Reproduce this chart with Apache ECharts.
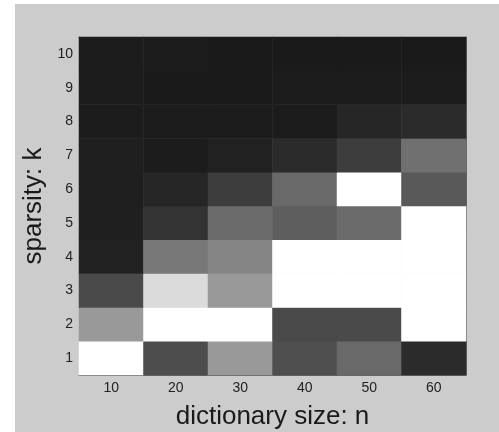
<!DOCTYPE html>
<html>
<head>
<meta charset="utf-8">
<style>html,body{margin:0;padding:0;background:#fff;}#c{width:499px;height:432px;}</style>
<script src="https://cdn.jsdelivr.net/npm/echarts@6/dist/echarts.min.js"></script>
</head>
<body>
<div id="c"></div>
<script>
// categories
var dictSizes = ['10', '20', '30', '40', '50', '60'];
var sparsity = ['1', '2', '3', '4', '5', '6', '7', '8', '9', '10'];
// brightness (0 = black, 1 = white) per sparsity row, columns n = 10..60
var row1  = [1.00, 0.30, 0.60, 0.31, 0.41, 0.17];
var row2  = [0.60, 1.00, 1.00, 0.29, 0.29, 1.00];
var row3  = [0.29, 0.86, 0.60, 1.00, 1.00, 1.00];
var row4  = [0.13, 0.47, 0.52, 1.00, 1.00, 1.00];
var row5  = [0.12, 0.20, 0.42, 0.37, 0.42, 1.00];
var row6  = [0.12, 0.15, 0.24, 0.41, 1.00, 0.35];
var row7  = [0.12, 0.11, 0.13, 0.17, 0.24, 0.44];
var row8  = [0.11, 0.11, 0.11, 0.11, 0.15, 0.17];
var row9  = [0.11, 0.10, 0.10, 0.11, 0.11, 0.11];
var row10 = [0.11, 0.11, 0.10, 0.10, 0.10, 0.10];
var rows = [row1, row2, row3, row4, row5, row6, row7, row8, row9, row10];

var data = [];
rows.forEach(function (r, yi) {
  r.forEach(function (v, xi) { data.push([xi, yi, v]); });
});

var chart = echarts.init(document.getElementById('c'), null, {renderer: 'canvas'});
var font = 'Liberation Sans, Arial, Helvetica, sans-serif';
var lineStyle = {color: '#666', width: 1};
var tickStyle = {show: true, inside: true, length: 3, alignWithLabel: true, lineStyle: {color: '#333'}};
chart.setOption({
  backgroundColor: '#ffffff',
  animation: false,
  graphic: [{
    type: 'rect', z: -10, silent: true,
    shape: {x: 15, y: 4, width: 499 - 15, height: 432 - 4},
    style: {fill: '#cccccc'}
  }],
  grid: {left: 79, right: 33, top: 37, bottom: 57, containLabel: false, outerBoundsMode: 'none'},
  xAxis: [{
    type: 'category', data: dictSizes, position: 'bottom',
    name: 'dictionary size: n', nameLocation: 'middle', nameGap: 29,
    nameTextStyle: {fontSize: 26, color: '#1a1a1a', fontFamily: font},
    axisLine: {show: true, lineStyle: lineStyle},
    axisTick: tickStyle,
    axisLabel: {fontSize: 14, color: '#222', fontFamily: font, margin: 6},
    splitLine: {show: false}
  }, {
    type: 'category', data: dictSizes, position: 'top',
    axisLine: {show: true, lineStyle: lineStyle},
    axisTick: tickStyle,
    axisLabel: {show: false},
    splitLine: {show: false}
  }],
  yAxis: [{
    type: 'category', data: sparsity, position: 'left',
    name: 'sparsity: k', nameLocation: 'middle', nameGap: 27, nameRotate: 90,
    nameTextStyle: {fontSize: 26, color: '#1a1a1a', fontFamily: font},
    axisLine: {show: true, lineStyle: lineStyle},
    axisTick: tickStyle,
    axisLabel: {fontSize: 14, color: '#222', fontFamily: font, margin: 6},
    splitLine: {show: false}
  }, {
    type: 'category', data: sparsity, position: 'right',
    axisLine: {show: true, lineStyle: lineStyle},
    axisTick: tickStyle,
    axisLabel: {show: false},
    splitLine: {show: false}
  }],
  visualMap: {
    show: false, type: 'continuous', min: 0, max: 1, dimension: 2,
    inRange: {color: ['#000000', '#ffffff']}
  },
  series: [{
    type: 'heatmap', data: data, xAxisIndex: 0, yAxisIndex: 0,
    itemStyle: {borderWidth: 0},
    emphasis: {disabled: true}
  }]
});
</script>
</body>
</html>
